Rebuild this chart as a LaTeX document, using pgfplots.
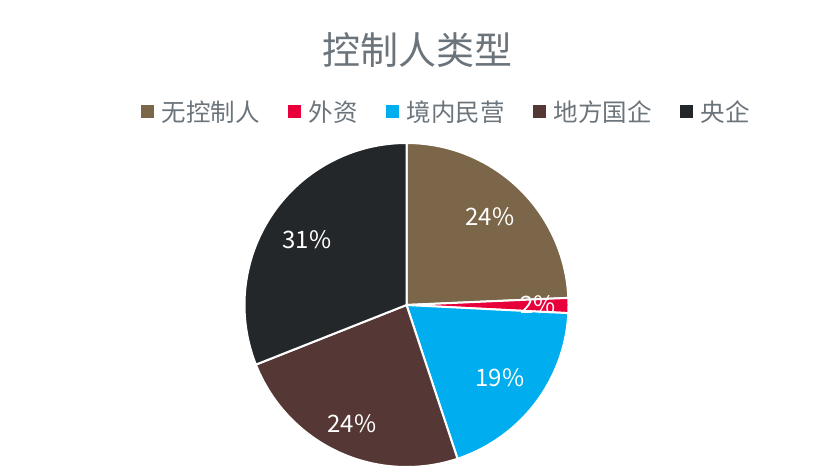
\documentclass[border=0pt]{standalone}
\usepackage{pgfplots}
\pgfplotsset{compat=1.18}
\usepackage{fontspec}
\setmainfont{Noto Sans CJK SC}

% shares in percent, clockwise from 12 o'clock
\def\vA{24.3}  % 无控制人
\def\vB{1.5}   % 外资
\def\vC{19.1}  % 境内民营
\def\vD{24.1}  % 地方国企
\def\vE{31.0}  % 央企

\pgfmathsetmacro\aA{90}
\pgfmathsetmacro\aB{\aA-3.6*\vA}
\pgfmathsetmacro\aC{\aB-3.6*\vB}
\pgfmathsetmacro\aD{\aC-3.6*\vC}
\pgfmathsetmacro\aE{\aD-3.6*\vD}
\pgfmathsetmacro\aF{\aE-3.6*\vE}

\definecolor{cA}{HTML}{7C6649}
\definecolor{cB}{HTML}{E8003A}
\definecolor{cC}{HTML}{00ADEE}
\definecolor{cD}{HTML}{553835}
\definecolor{cE}{HTML}{24272A}
\definecolor{txt}{HTML}{6B747B}

\newcommand\fs[1]{\fontsize{#1bp}{#1bp}\selectfont}

\begin{document}
\begin{tikzpicture}
\begin{axis}[
  width=834bp, height=473bp, scale only axis,
  xmin=0, xmax=834, ymin=0, ymax=473,
  hide axis, clip=false,
  legend columns=-1,
  legend style={at={(axis cs:445,361)}, anchor=center, draw=none, fill=none,
    font=\fs{24.5}\color{txt}, inner sep=0pt, nodes={inner sep=0pt},
    /tikz/every odd column/.append style={column sep=8bp},
    /tikz/every even column/.append style={column sep=28bp}},
  legend image code/.code={\fill[#1,draw=none] (0bp,-6.5bp) rectangle (13bp,6.5bp);},
]
\path (axis cs:0,0) rectangle (axis cs:834,473);
\addplot[fill=cA, draw=white, line width=2bp, domain=\aB:\aA, samples=80]
  ({406.5+162*cos(x)},{168+162*sin(x)}) -- (axis cs:406.5,168) -- cycle;
\addlegendentry{无控制人}
\addplot[fill=cB, draw=white, line width=2bp, domain=\aC:\aB, samples=10]
  ({406.5+162*cos(x)},{168+162*sin(x)}) -- (axis cs:406.5,168) -- cycle;
\addlegendentry{外资}
\addplot[fill=cC, draw=white, line width=2bp, domain=\aD:\aC, samples=60]
  ({406.5+162*cos(x)},{168+162*sin(x)}) -- (axis cs:406.5,168) -- cycle;
\addlegendentry{境内民营}
\addplot[fill=cD, draw=white, line width=2bp, domain=\aE:\aD, samples=80]
  ({406.5+162*cos(x)},{168+162*sin(x)}) -- (axis cs:406.5,168) -- cycle;
\addlegendentry{地方国企}
\addplot[fill=cE, draw=white, line width=2bp, domain=\aF:\aE, samples=100]
  ({406.5+162*cos(x)},{168+162*sin(x)}) -- (axis cs:406.5,168) -- cycle;
\addlegendentry{央企}

\node[text=txt, font=\fs{38}] at (axis cs:417,423) {控制人类型};
\node[text=white, font=\fs{24}] at (axis cs:490,256) {24\%};
\node[text=white, font=\fs{24}] at (axis cs:538,168) {2\%};
\node[text=white, font=\fs{24}] at (axis cs:500,95) {19\%};
\node[text=white, font=\fs{24}] at (axis cs:352,49) {24\%};
\node[text=white, font=\fs{24}] at (axis cs:307,233) {31\%};
\end{axis}
\end{tikzpicture}
\end{document}
